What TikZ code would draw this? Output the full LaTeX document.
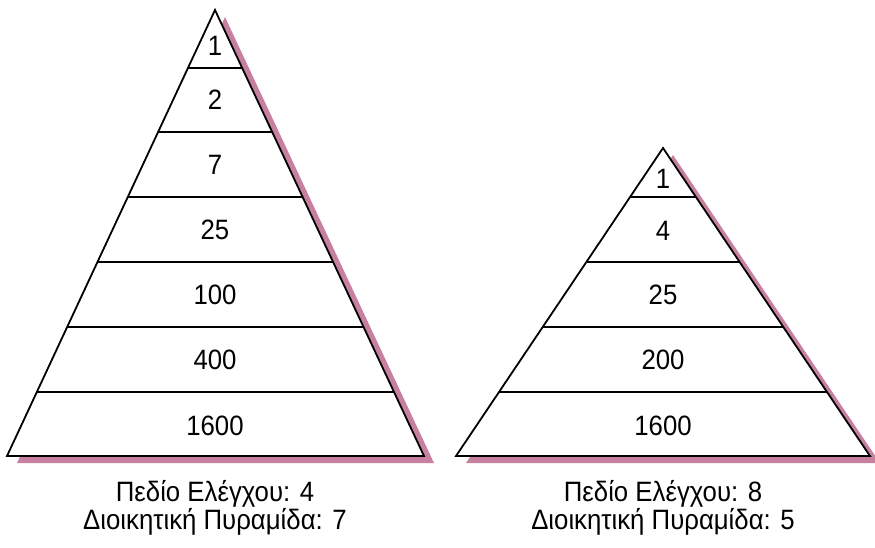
\documentclass[tikz,border=0pt]{standalone}
\usepackage{fontspec}
\setmainfont{Liberation Sans}[FakeStretch=0.92]
\definecolor{shadowpink}{RGB}{200,128,160}
\begin{document}
\begin{tikzpicture}[x=1pt,y=-1pt,
  pyr/.style={draw=black,fill=white,line width=1.8pt,line join=miter},
  shade/.style={fill=shadowpink,draw=none},
  band/.style={draw=black,line width=1.6pt},
  num/.style={font=\fontsize{28}{30}\selectfont,inner sep=0pt},
  caption text/.style={font=\fontsize{28}{30}\selectfont,inner sep=0pt,anchor=base}]
\useasboundingbox (0,0) rectangle (875,547);
% ---------- left pyramid ----------
\coordinate (LA) at (215,10);
\coordinate (LL) at (7,456);
\coordinate (LR) at (424,456);
\fill[shade] ([shift={(10,7)}]LA) -- ([shift={(10,7)}]LL) -- ([shift={(10,7)}]LR) -- cycle;
\draw[pyr] (LA) -- (LL) -- (LR) -- cycle;
\foreach \y/\h [count=\i] in {68/27.1,132/57.0,197/87.4,262/117.8,327/148.2,392/178.6}{
  \coordinate (la\i) at (215-\h,\y);
  \coordinate (lb\i) at (215+\h,\y);
  \draw[band] (la\i) -- (lb\i);
}
\node[num] (l1) at (215,46) {1};
\node[num] (l2) at (215,100) {2};
\node[num] (l3) at (215,165) {7};
\node[num] (l4) at (215,230) {25};
\node[num] (l5) at (215,295) {100};
\node[num] (l6) at (215,360) {400};
\node[num] (l7) at (215,426) {1600};
\node[caption text] (lc1) at (215,501) {Πεδίο Ελέγχου: 4};
\node[caption text] (lc2) at (215,529) {Διοικητική Πυραμίδα: 7};
% ---------- right pyramid ----------
\coordinate (RA) at (663,148);
\coordinate (RL) at (456,456);
\coordinate (RR) at (870,456);
\fill[shade] ([shift={(10,7)}]RA) -- ([shift={(10,7)}]RL) -- ([shift={(10,7)}]RR) -- cycle;
\draw[pyr] (RA) -- (RL) -- (RR) -- cycle;
\foreach \y/\h [count=\i] in {197/32.9,262/76.6,327/120.3,392/164.0}{
  \coordinate (ra\i) at (663-\h,\y);
  \coordinate (rb\i) at (663+\h,\y);
  \draw[band] (ra\i) -- (rb\i);
}
\node[num] (r1) at (663,179) {1};
\node[num] (r2) at (663,231) {4};
\node[num] (r3) at (663,295) {25};
\node[num] (r4) at (663,360) {200};
\node[num] (r5) at (663,426) {1600};
\node[caption text] (rc1) at (663,501) {Πεδίο Ελέγχου: 8};
\node[caption text] (rc2) at (663,529) {Διοικητική Πυραμίδα: 5};
\end{tikzpicture}
\end{document}
